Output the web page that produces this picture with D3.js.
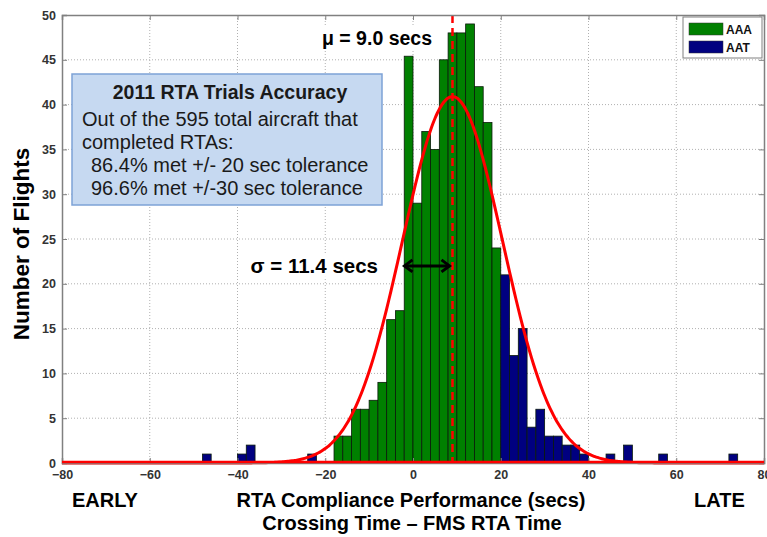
<!DOCTYPE html>
<html><head><meta charset="utf-8">
<script src="https://cdn.jsdelivr.net/npm/d3@7"></script>
<style>
html,body{margin:0;padding:0;background:#fff;}
svg{display:block;font-family:"Liberation Sans",Arial,sans-serif;}
</style></head>
<body>
<svg id="chart" width="767" height="537"></svg>
<script>
// ---- data ----
const binWidth = 2;
const aaaBins   = [-18,-16,-14,-12,-10,-8,-6,-4,-2,0,2,4,6,8,10,12,14,16,18];
const aaaCounts = [3,3,6,6,7,9,16,17,45.4,29,37,35,45,48,48,49,42,38,24];
const aatBins   = [-48,-40,-38,-24,20,22,24,26,28,30,32,34,36,38,44,48,56,72];
const aatCounts = [1,1,2,1,21,12,15,4,6,3,3,2,2,1,1,2,1,1];
const xTicks = [-80,-60,-40,-20,0,20,40,60,80];
const yTicks = [0,5,10,15,20,25,30,35,40,45,50];
const mu = 9.0, sigma = 11.4, curvePeak = 40.9;
const legendItems = [{name:"AAA", color:"#008000"},{name:"AAT", color:"#000080"}];
const boxLines = ["2011 RTA Trials Accuracy","Out of the 595 total aircraft that","completed RTAs:","86.4% met +/- 20 sec tolerance","96.6% met +/-30 sec tolerance"];

// ---- layout ----
const svg = d3.select("#chart");
const L = 62, R = 764, T = 15, B = 463;
const x = d3.scaleLinear().domain([-80,80]).range([L,R]);
const y = d3.scaleLinear().domain([0,50]).range([B,T]);

// grid
const grid = svg.append("g");
grid.selectAll("line.gy").data(yTicks.filter(d=>d>0&&d<50)).join("line")
  .attr("x1",L).attr("x2",R).attr("y1",d=>y(d)).attr("y2",d=>y(d))
  .attr("stroke","#b0b0b0").attr("stroke-width",1).attr("stroke-dasharray","1,2");
grid.selectAll("line.gx").data(xTicks.filter(d=>d>-80&&d<80)).join("line")
  .attr("y1",T).attr("y2",B).attr("x1",d=>x(d)).attr("x2",d=>x(d))
  .attr("stroke","#b0b0b0").attr("stroke-width",1).attr("stroke-dasharray","1,2");

// bars
function drawBars(bins, counts, color){
  svg.append("g").selectAll("rect").data(bins.map((b,i)=>({b, c:counts[i]}))).join("rect")
    .attr("x",d=>x(d.b)).attr("width",d=>x(d.b+binWidth)-x(d.b))
    .attr("y",d=>y(d.c)).attr("height",d=>y(0)-y(d.c))
    .attr("fill",color).attr("stroke","#0a1a0a").attr("stroke-width",0.8);
}
drawBars(aaaBins, aaaCounts, legendItems[0].color);
drawBars(aatBins, aatCounts, legendItems[1].color);

// fitted normal curve
const curveX = d3.range(-80, 80.01, 0.5);
const line = d3.line().x(d=>x(d)).y(d=>y(curvePeak*Math.exp(-((d-mu)**2)/(2*sigma*sigma)))).curve(d3.curveBasis);
svg.append("path").datum(curveX).attr("d",line).attr("fill","none")
  .attr("stroke","#ff0000").attr("stroke-width",3);

// mean line
svg.append("line").attr("x1",x(mu)).attr("x2",x(mu)).attr("y1",T).attr("y2",B)
  .attr("stroke","#ff0000").attr("stroke-width",2.5).attr("stroke-dasharray","8,5");

// axes frame
const yAxis = d3.axisLeft(y).tickValues(yTicks).tickSize(-5).tickPadding(6);
const xAxis = d3.axisBottom(x).tickValues(xTicks).tickSize(-5).tickPadding(12);
const gy = svg.append("g").attr("transform",`translate(${L},0)`).call(yAxis);
const gx = svg.append("g").attr("transform",`translate(0,${B})`).call(xAxis);
svg.append("g").attr("transform",`translate(${R},0)`).call(d3.axisRight(y).tickValues(yTicks).tickSize(-5).tickFormat(""));
svg.append("g").attr("transform",`translate(0,${T})`).call(d3.axisTop(x).tickValues(xTicks).tickSize(-5).tickFormat(""));
svg.selectAll(".domain").attr("stroke","#808080").attr("stroke-width",1.5);
svg.selectAll(".tick line").attr("stroke","#808080");
[gy,gx].forEach(g=>g.selectAll("text").attr("font-family","Liberation Sans, Arial, sans-serif")
  .attr("font-size",12.5).attr("font-weight","bold").attr("fill","#333"));
gx.selectAll("text").attr("dy","0.3em");
// curve baseline drawn over the axis
svg.append("line").attr("x1",L).attr("x2",R).attr("y1",B-1).attr("y2",B-1)
  .attr("stroke","#ff0000").attr("stroke-width",2.5);

// labelled annotation with white backing
function label(xp, yp, anchor, txt, fs){
  const g = svg.append("g");
  const r = g.append("rect").attr("fill","#fff");
  const t = g.append("text").attr("x",xp).attr("y",yp).attr("text-anchor",anchor)
    .attr("font-size",fs).attr("font-weight","bold").attr("fill","#000").text(txt);
  const b = t.node().getBBox();
  r.attr("x",b.x-3).attr("y",b.y).attr("width",b.width+6).attr("height",b.height);
}
label(377, 45, "middle", "μ = 9.0 secs", 19.5);

// sigma arrow
const ay = y(22);
const x0 = x(mu-sigma)+2, x1 = x(mu)-3;
svg.append("line").attr("x1",x0).attr("x2",x1).attr("y1",ay).attr("y2",ay)
  .attr("stroke","#000").attr("stroke-width",3);
svg.append("path").attr("d",`M${x0+8},${ay-6} L${x0},${ay} L${x0+8},${ay+6}`)
  .attr("fill","none").attr("stroke","#000").attr("stroke-width",3);
svg.append("path").attr("d",`M${x1-8},${ay-6} L${x1},${ay} L${x1-8},${ay+6}`)
  .attr("fill","none").attr("stroke","#000").attr("stroke-width",3);
label(378, ay+7, "end", "σ = 11.4 secs", 20.5);

// info box
svg.append("rect").attr("x",72).attr("y",74).attr("width",310).attr("height",131)
  .attr("fill","#c6d9f1").attr("stroke","#7da2d6").attr("stroke-width",1.5);
const bt = svg.append("g");
bt.append("text").attr("x",230).attr("y",99).attr("text-anchor","middle")
  .attr("font-size",19.5).attr("font-weight","bold").attr("fill","#1a1a1a").text(boxLines[0]);
[1,2].forEach((i,k)=>bt.append("text").attr("x",82).attr("y",126+k*23)
  .attr("font-size",20).attr("fill","#1a1a1a").text(boxLines[i]));
[3,4].forEach((i,k)=>bt.append("text").attr("x",91).attr("y",172+k*23)
  .attr("font-size",20).attr("fill","#1a1a1a").text(boxLines[i]));

// legend
const lg = svg.append("g");
lg.append("rect").attr("x",683).attr("y",17).attr("width",79).attr("height",41)
  .attr("fill","#fff").attr("stroke","#808080").attr("stroke-width",1);
legendItems.forEach((d,i)=>{
  lg.append("rect").attr("x",689).attr("y",23+i*18).attr("width",34).attr("height",12)
    .attr("fill",d.color).attr("stroke","#333").attr("stroke-width",0.5);
  lg.append("text").attr("x",726).attr("y",34+i*18).attr("font-size",12).attr("font-weight","bold")
    .attr("fill","#111").text(d.name);
});

// axis titles
svg.append("text").attr("transform","translate(29,244) rotate(-90)").attr("text-anchor","middle")
  .attr("font-size",22.5).attr("font-weight","bold").attr("fill","#000").text("Number of Flights");
svg.append("text").attr("x",72).attr("y",507).attr("font-size",20).attr("font-weight","bold").text("EARLY");
svg.append("text").attr("x",411).attr("y",507).attr("text-anchor","middle").attr("font-size",20)
  .attr("font-weight","bold").text("RTA Compliance Performance (secs)");
svg.append("text").attr("x",412).attr("y",530).attr("text-anchor","middle").attr("font-size",20)
  .attr("font-weight","bold").text("Crossing Time – FMS RTA Time");
svg.append("text").attr("x",694).attr("y",507).attr("font-size",20).attr("font-weight","bold").text("LATE");
</script>
</body></html>
